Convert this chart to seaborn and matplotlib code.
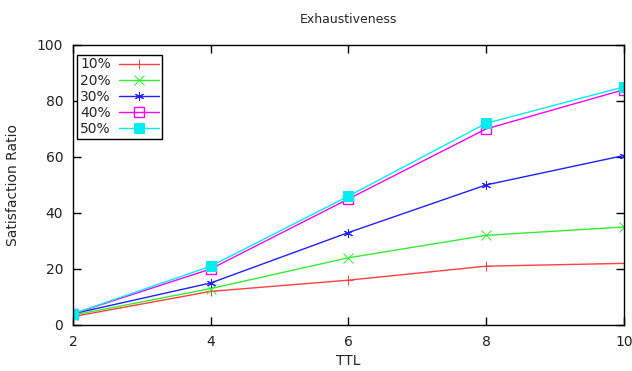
import pandas as pd
import seaborn as sns
import matplotlib.pyplot as plt

# datos
ttl = [2, 4, 6, 8, 10]
p10 = [3, 12, 16, 21, 22]
p20 = [3.5, 13, 24, 32, 35]
p30 = [4, 15, 33, 50, 60.5]
p40 = [4, 20, 45, 70, 84]
p50 = [4, 21, 46, 72, 85]
series = ['10%', '20%', '30%', '40%', '50%']

df = pd.DataFrame({'TTL': ttl * 5,
                   'ratio': p10 + p20 + p30 + p40 + p50,
                   'serie': [s for s in series for _ in ttl]})

sns.set_style('ticks')
plt.rcParams['font.family'] = ['DejaVu Sans']

colores = {'10%': '#ff4040', '20%': '#33ee33', '30%': '#2020ff',
           '40%': '#ff00ff', '50%': '#00eeee'}
marcas = {'10%': '+', '20%': 'x', '30%': (6, 2, 0), '40%': 's', '50%': 's'}

fig = plt.figure(figsize=(6.32, 3.71), dpi=100)
ax = fig.add_axes([0.1155, 0.124, 0.8715, 0.755])
for s in series:
    sub = df[df['serie'] == s]
    kw = dict(mfc='none', mec=colores[s], mew=1) if s == '40%' else dict(mec=colores[s])
    sns.lineplot(data=sub, x='TTL', y='ratio', color=colores[s], marker=marcas[s],
                 linewidth=1, markersize=6.5, label=s, ax=ax, **kw)

ax.set_xlim(2, 10)
ax.set_ylim(0, 100)
ax.set_xticks([2, 4, 6, 8, 10])
ax.set_yticks([0, 20, 40, 60, 80, 100])
ax.tick_params(direction='in', length=6, width=1, top=True, right=True,
               labelsize=10, colors='black', labelcolor='#222222', pad=7)
for sp in ax.spines.values():
    sp.set_color('black')
    sp.set_linewidth(1)

ax.set_title('Exhaustiveness', fontsize=9, pad=16)
ax.set_xlabel('TTL', fontsize=10, labelpad=4)
ax.set_ylabel('Satisfaction Ratio', fontsize=10, labelpad=12)

leg = ax.legend(loc='upper left', bbox_to_anchor=(0.0, 0.98),
                markerfirst=False, fancybox=False, framealpha=1,
                edgecolor='black', fontsize=10, handlelength=2.9,
                labelspacing=0.15, borderpad=0.2, handletextpad=0.6,
                borderaxespad=0.3)
leg.get_frame().set_linewidth(1)

plt.savefig('out.png', dpi=100)
